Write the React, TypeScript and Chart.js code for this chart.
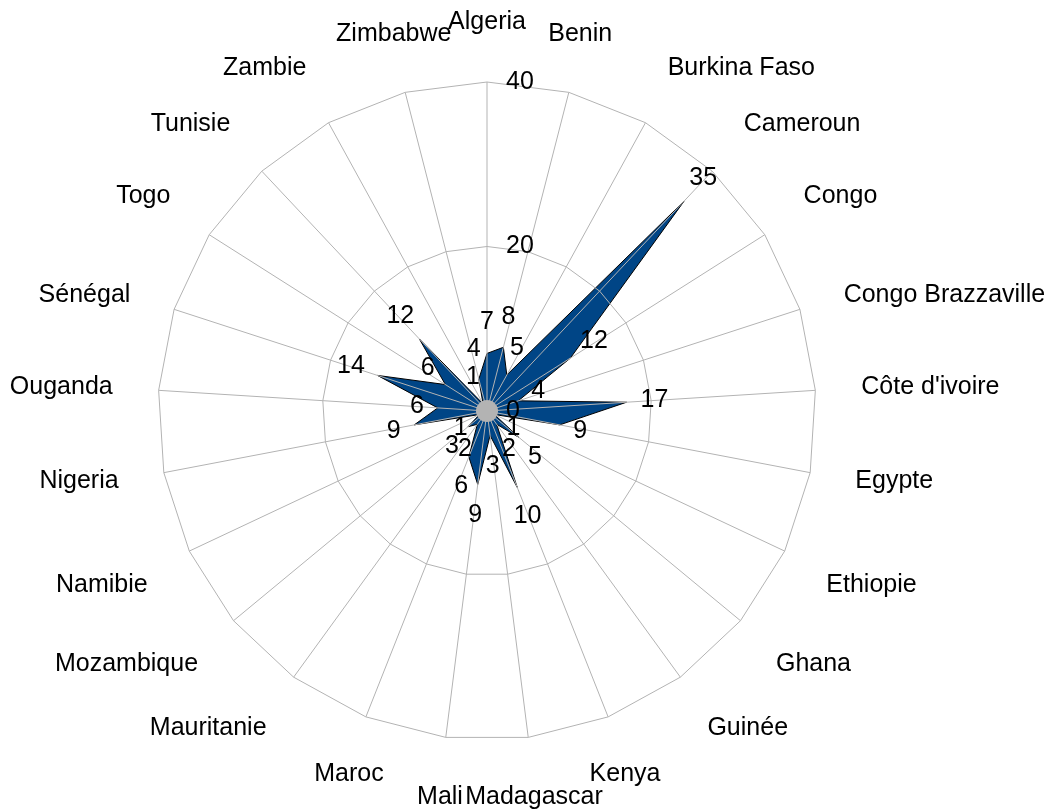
import React, { useEffect, useRef } from 'react';
import { Chart, registerables } from 'chart.js';

Chart.register(...registerables);

const categories = [
  'Algeria', 'Benin', 'Burkina Faso', 'Cameroun', 'Congo', 'Congo Brazzaville',
  "Côte d'ivoire", 'Egypte', 'Ethiopie', 'Ghana', 'Guinée', 'Kenya', 'Madagascar',
  'Mali', 'Maroc', 'Mauritanie', 'Mozambique', 'Namibie', 'Nigeria', 'Ouganda',
  'Sénégal', 'Togo', 'Tunisie', 'Zambie', 'Zimbabwe',
];
const values = [7, 8, 5, 35, 12, 4, 17, 9, 1, 5, 2, 10, 3, 9, 6, 2, 3, 1, 9, 6, 14, 6, 12, 1, 4];
const axisMin = 0;
const axisMax = 40;
const axisStep = 20;

const FONT = '25px "Liberation Sans", Arial, sans-serif';

const overlayPlugin = {
  id: 'overlay',
  afterDraw(chart: any) {
    const scale = chart.scales.r;
    const ctx = chart.ctx as CanvasRenderingContext2D;
    const n = chart.data.labels.length;
    ctx.save();
    // center disc
    ctx.fillStyle = '#b3b3b3';
    ctx.beginPath();
    ctx.arc(scale.xCenter, scale.yCenter, 11, 0, Math.PI * 2);
    ctx.fill();

    ctx.font = FONT;
    ctx.fillStyle = '#000000';

    // data labels
    const data = chart.data.datasets[0].data as number[];
    ctx.textAlign = 'center';
    ctx.textBaseline = 'middle';
    for (let i = 0; i < n; i++) {
      const v = data[i];
      const p = scale.getPointPositionForValue(i, v);
      const a = scale.getIndexAngle(i);
      const s = Math.sin(a);
      const c = Math.cos(a);
      const txt = String(v);
      const w = ctx.measureText(txt).width;
      const x = p.x + s * (14 + w / 2);
      const y = p.y - c * 31;
      ctx.fillText(txt, x, y);
    }

    // radial tick labels
    ctx.textAlign = 'left';
    ctx.textBaseline = 'middle';
    for (const t of scale.ticks) {
      const d = scale.getDistanceFromCenterForValue(t.value);
      ctx.fillText(String(t.value), scale.xCenter + 19, scale.yCenter - d);
    }

    // category labels
    const lim = Math.sin((22.5 * Math.PI) / 180);
    for (let i = 0; i < n; i++) {
      const a = scale.getIndexAngle(i);
      const p = scale.getPointPosition(i, scale.drawingArea + 46);
      const s = Math.sin(a);
      const c = Math.cos(a);
      let align: CanvasTextAlign = 'center';
      if (Math.abs(s) >= lim) align = s > 0 ? 'left' : 'right';
      let y = p.y;
      if (Math.abs(c) >= lim) y = c > 0 ? p.y - 14 : p.y + 14;
      ctx.textAlign = align;
      ctx.textBaseline = 'middle';
      ctx.fillText(chart.data.labels[i], p.x, y);
    }
    ctx.restore();
  },
};

export default function App() {
  const ref = useRef<HTMLCanvasElement | null>(null);
  useEffect(() => {
    if (!ref.current) return;
    const chart = new Chart(ref.current, {
      type: 'radar',
      data: {
        labels: categories,
        datasets: [
          {
            data: values,
            backgroundColor: '#004586',
            borderColor: '#000000',
            borderWidth: 1,
            pointRadius: 0,
            fill: true,
            clip: false as any,
          },
        ],
      },
      options: {
        animation: false,
        responsive: false,
        devicePixelRatio: 1,
        layout: { padding: 0 },
        plugins: { legend: { display: false }, tooltip: { enabled: false } },
        scales: {
          r: {
            min: axisMin,
            max: axisMax,
            ticks: { stepSize: axisStep, display: false },
            grid: { color: '#b3b3b3', lineWidth: 1, z: 1 } as any,
            angleLines: { display: true, color: '#b3b3b3', lineWidth: 1 },
            pointLabels: { display: false },
            afterFit: (s: any) => {
              s.xCenter = 487;
              s.yCenter = 411;
              s.drawingArea = 329;
            },
          } as any,
        },
      },
      plugins: [overlayPlugin],
    });
    return () => chart.destroy();
  }, []);
  return (
    <canvas
      ref={ref}
      width={1053}
      height={809}
      style={{ position: 'fixed', left: 0, top: 0, width: 1053, height: 809 }}
    />
  );
}
